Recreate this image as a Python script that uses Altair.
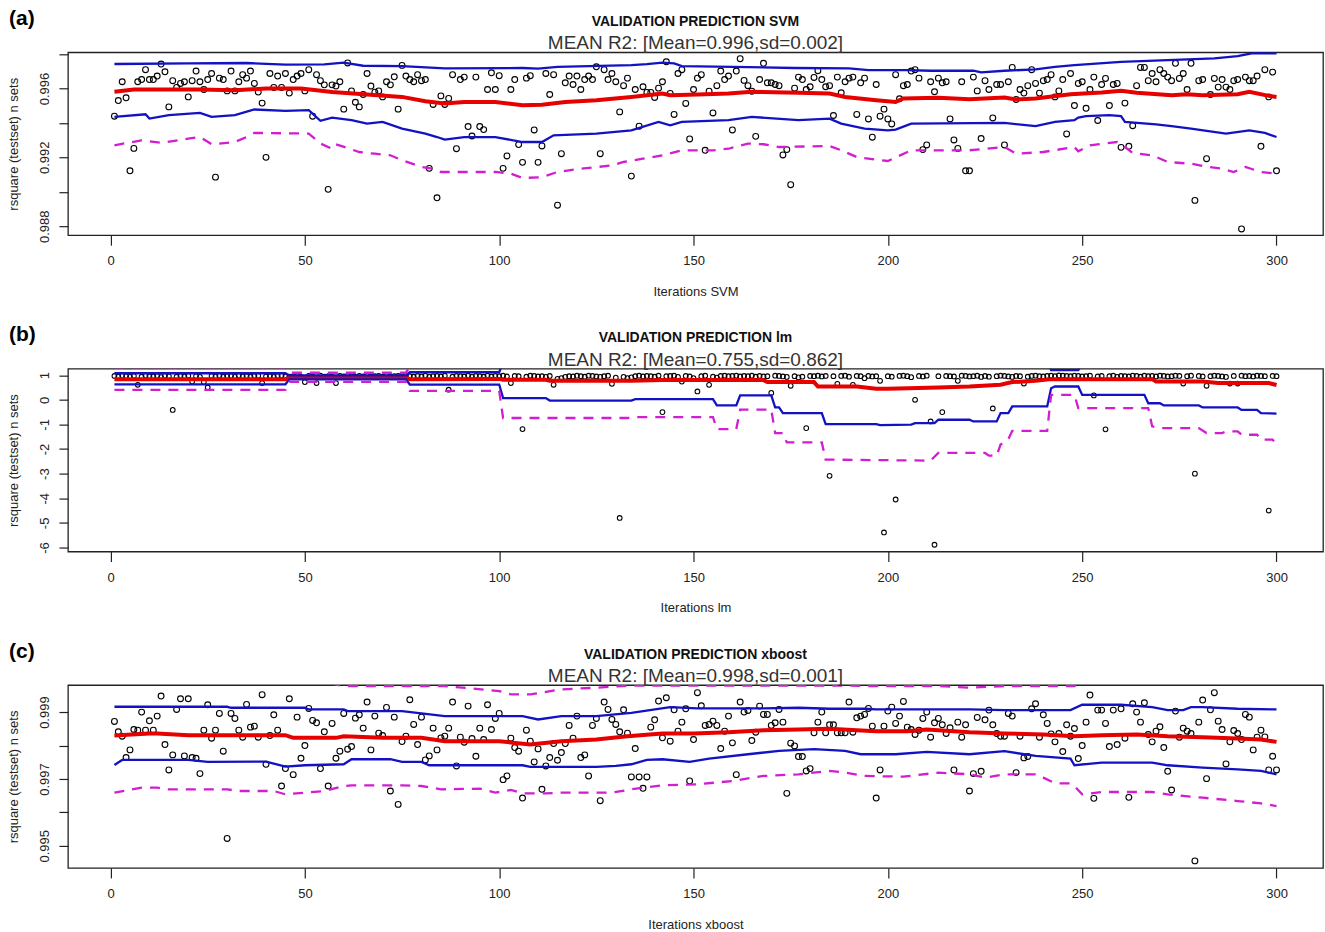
import json
import altair as alt
import pandas as pd

# ---------------- data ----------------
iterations = list(range(1, 301))

svm_r2 = [
    0.99439, 0.99530, 0.99639, 0.99546, 0.99122, 0.99252, 0.99639, 0.99652, 0.99709, 0.99652,
    0.99652, 0.99672, 0.99742, 0.99697, 0.99493, 0.99645, 0.99606, 0.99629, 0.99639, 0.99551,
    0.99645, 0.99701, 0.99639, 0.99594, 0.99652, 0.99687, 0.99085, 0.99660, 0.99652, 0.99586,
    0.99701, 0.99586, 0.99639, 0.99680, 0.99660, 0.99701, 0.99629, 0.99579, 0.99515, 0.99200,
    0.99687, 0.99606, 0.99672, 0.99606, 0.99687, 0.99573, 0.99652, 0.99672, 0.99687, 0.99586,
    0.99709, 0.99439, 0.99680, 0.99645, 0.99621, 0.99014, 0.99621, 0.99614, 0.99639, 0.99480,
    0.99748, 0.99586, 0.99520, 0.99493, 0.99565, 0.99687, 0.99614, 0.99579, 0.99586, 0.99551,
    0.99639, 0.99621, 0.99668, 0.99480, 0.99734, 0.99672, 0.99652, 0.99639, 0.99680, 0.99645,
    0.99652, 0.99136, 0.99507, 0.98965, 0.99557, 0.99507, 0.99542, 0.99680, 0.99250, 0.99652,
    0.99666, 0.99379, 0.99324, 0.99666, 0.99379, 0.99361, 0.99594, 0.99691, 0.99594, 0.99674,
    0.99136, 0.99208, 0.99594, 0.99652, 0.99274, 0.99171, 0.99660, 0.99674, 0.99359, 0.99171,
    0.99266, 0.99687, 0.99565, 0.99680, 0.98922, 0.99221, 0.99633, 0.99672, 0.99623, 0.99672,
    0.99594, 0.99652, 0.99672, 0.99652, 0.99726, 0.99221, 0.99709, 0.99652, 0.99687, 0.99639,
    0.99464, 0.99616, 0.99660, 0.99091, 0.99594, 0.99381, 0.99610, 0.99577, 0.99577, 0.99548,
    0.99602, 0.99639, 0.99755, 0.99571, 0.99449, 0.99687, 0.99709, 0.99513, 0.99307, 0.99594,
    0.99660, 0.99680, 0.99241, 0.99584, 0.99458, 0.99616, 0.99701, 0.99652, 0.99672, 0.99359,
    0.99701, 0.99773, 0.99647, 0.99616, 0.99584, 0.99322, 0.99652, 0.99746, 0.99633, 0.99633,
    0.99623, 0.99616, 0.99214, 0.99245, 0.99041, 0.99602, 0.99666, 0.99652, 0.99594, 0.99610,
    0.99664, 0.99703, 0.99652, 0.99610, 0.99616, 0.99443, 0.99666, 0.99575, 0.99639, 0.99660,
    0.99666, 0.99449, 0.99633, 0.99660, 0.99423, 0.99317, 0.99623, 0.99439, 0.99480, 0.99423,
    0.99394, 0.99680, 0.99540, 0.99616, 0.99623, 0.99701, 0.99709, 0.99660, 0.99245, 0.99272,
    0.99639, 0.99581, 0.99660, 0.99633, 0.99639, 0.99423, 0.99301, 0.99252, 0.99639, 0.99122,
    0.99122, 0.99666, 0.99586, 0.99309, 0.99645, 0.99594, 0.99429, 0.99623, 0.99623, 0.99272,
    0.99639, 0.99722, 0.99536, 0.99594, 0.99573, 0.99616, 0.99709, 0.99629, 0.99573, 0.99645,
    0.99652, 0.99680, 0.99551, 0.99586, 0.99652, 0.99336, 0.99687, 0.99501, 0.99629, 0.99639,
    0.99485, 0.99594, 0.99666, 0.99414, 0.99623, 0.99658, 0.99501, 0.99623, 0.99629, 0.99258,
    0.99515, 0.99264, 0.99384, 0.99616, 0.99722, 0.99722, 0.99645, 0.99687, 0.99639, 0.99709,
    0.99687, 0.99666, 0.99645, 0.99746, 0.99658, 0.99687, 0.99594, 0.99746, 0.98950, 0.99645,
    0.99652, 0.99192, 0.99565, 0.99658, 0.99608, 0.99652, 0.99608, 0.99594, 0.99645, 0.99652,
    0.98784, 0.99666, 0.99645, 0.99645, 0.99672, 0.99264, 0.99709, 0.99551, 0.99695, 0.99122,
]

lm_r2 = [
    0.97, 0.95, 0.98, 0.96, 0.93, 0.97, 0.61, 0.94, 0.98, 0.96,
    0.95, 0.97, 0.92, 0.98, 0.96, -0.41, 0.94, 0.97, 0.95, 0.98,
    0.74, 0.96, 0.93, 0.72, 0.50, 0.97, 0.95, 0.98, 0.94, 0.96,
    0.97, 0.93, 0.98, 0.95, 0.96, 0.94, 0.97, 0.98, 0.68, 0.95,
    0.96, 0.93, 0.97, 0.98, 0.95, 0.94, 0.96, 0.97, 0.93, 0.72,
    0.97, 0.95, 0.68, 0.98, 0.94, 0.96, 0.93, 0.68, 0.97, 0.95,
    0.98, 0.96, 0.94, 0.97, 0.95, 0.98, 0.93, 0.96, 0.97, 0.94,
    0.98, 0.95, 0.96, 0.97, 0.93, 0.98, 0.96, 0.94, 0.97, 0.95,
    0.98, 0.93, 0.96, 0.97, 0.95, 0.98, 0.41, 0.94, 0.97, 0.96,
    0.95, 0.98, 0.93, 0.97, 0.96, 0.94, 0.98, 0.95, 0.97, 0.96,
    0.98, 0.95, 0.68, 0.97, 0.96, -1.19, 0.94, 0.98, 0.97, 0.95,
    0.96, 0.93, 0.97, 0.61, 0.85, 0.88, 0.93, 0.96, 0.95, 0.98,
    0.96, 0.94, 0.98, 0.97, 0.95, 0.93, 0.96, 0.98, 0.65, 0.90,
    -4.80, 0.93, 0.88, 0.91, 0.96, 0.98, 0.95, 0.97, 0.96, 0.94,
    0.98, -0.50, 0.96, 0.97, 0.98, 0.93, 0.74, 0.97, 0.95, 0.88,
    0.34, 0.96, 0.98, 0.61, 0.94, 0.90, 0.97, 0.98, 0.96, 0.97,
    0.98, 0.95, 0.97, 0.96, 0.98, 0.94, 0.97, 0.95, 0.96, 0.28,
    0.98, 0.97, 0.95, 0.93, 0.57, 0.96, 0.91, 0.94, -1.15, 0.97,
    0.96, 0.98, 0.95, 0.97, -3.09, 0.96, 0.65, 0.97, 0.98, 0.94,
    0.61, 0.97, 0.96, 0.88, 0.97, 0.95, 0.96, 0.77, -5.39, 0.96,
    0.94, -4.05, 0.97, 0.98, 0.96, 0.92, 0.00, 0.97, 0.95, 0.98,
    -0.88, -5.89, 0.96, -0.50, 0.97, 0.96, 0.95, 0.77, 0.98, 0.97,
    0.95, 0.96, 0.98, 0.93, 0.97, 0.94, -0.35, 0.96, 0.98, 0.97,
    0.95, 0.93, 0.97, 0.96, 0.66, 0.94, 0.97, 0.98, 0.96, 0.95,
    0.97, 0.98, 0.96, 0.99, 0.98, 0.97, 0.96, 0.98, 0.97, 0.95,
    0.96, 0.98, 0.18, 0.95, 0.97, -1.20, 0.96, 0.98, 0.93, 0.97,
    0.96, 0.95, 0.98, 0.97, 0.94, 0.98, 0.96, 0.97, 0.95, 0.98,
    0.97, 0.95, 0.96, 0.98, 0.97, 0.66, 0.96, 0.98, -3.00, 0.97,
    0.95, 0.57, 0.96, 0.98, 0.97, 0.95, 0.93, 0.66, 0.97, 0.66,
    0.98, 0.96, 0.97, 0.95, 0.98, 0.97, 0.96, -4.50, 0.97, 0.96,
]

xgb_r2 = [
    0.99872, 0.99841, 0.99828, 0.99764, 0.99787, 0.99848, 0.99846, 0.99900, 0.99846, 0.99874,
    0.99846, 0.99888, 0.99948, 0.99803, 0.99727, 0.99772, 0.99908, 0.99940, 0.99769, 0.99940,
    0.99764, 0.99762, 0.99716, 0.99846, 0.99922, 0.99822, 0.99846, 0.99896, 0.99783, 0.99522,
    0.99896, 0.99881, 0.99846, 0.99825, 0.99923, 0.99855, 0.99858, 0.99825, 0.99952, 0.99744,
    0.99830, 0.99892, 0.99846, 0.99679, 0.99731, 0.99940, 0.99713, 0.99885, 0.99762, 0.99800,
    0.99911, 0.99875, 0.99868, 0.99731, 0.99841, 0.99679, 0.99866, 0.99762, 0.99783, 0.99896,
    0.99789, 0.99797, 0.99882, 0.99892, 0.99852, 0.99930, 0.99787, 0.99888, 0.99837, 0.99830,
    0.99914, 0.99664, 0.99885, 0.99624, 0.99812, 0.99828, 0.99937, 0.99863, 0.99803, 0.99885,
    0.99757, 0.99769, 0.99852, 0.99787, 0.99823, 0.99828, 0.99852, 0.99930, 0.99739, 0.99825,
    0.99810, 0.99918, 0.99821, 0.99768, 0.99852, 0.99818, 0.99922, 0.99848, 0.99881, 0.99896,
    0.99698, 0.99709, 0.99822, 0.99794, 0.99783, 0.99643, 0.99846, 0.99813, 0.99751, 0.99790,
    0.99669, 0.99739, 0.99764, 0.99806, 0.99756, 0.99779, 0.99806, 0.99860, 0.99822, 0.99888,
    0.99764, 0.99772, 0.99709, 0.99860, 0.99881, 0.99635, 0.99930, 0.99908, 0.99878, 0.99863,
    0.99841, 0.99907, 0.99837, 0.99706, 0.99791, 0.99706, 0.99672, 0.99706, 0.99855, 0.99877,
    0.99933, 0.99823, 0.99943, 0.99813, 0.99907, 0.99843, 0.99870, 0.99910, 0.99694, 0.99818,
    0.99958, 0.99919, 0.99860, 0.99863, 0.99873, 0.99860, 0.99791, 0.99843, 0.99888, 0.99808,
    0.99713, 0.99930, 0.99900, 0.99905, 0.99815, 0.99840, 0.99918, 0.99893, 0.99893, 0.99860,
    0.99868, 0.99908, 0.99870, 0.99657, 0.99807, 0.99799, 0.99767, 0.99767, 0.99724, 0.99731,
    0.99838, 0.99870, 0.99900, 0.99838, 0.99862, 0.99862, 0.99838, 0.99838, 0.99838, 0.99930,
    0.99840, 0.99883, 0.99888, 0.99893, 0.99911, 0.99858, 0.99643, 0.99727, 0.99858, 0.99903,
    0.99915, 0.99866, 0.99888, 0.99932, 0.99855, 0.99848, 0.99833, 0.99846, 0.99881, 0.99900,
    0.99825, 0.99868, 0.99881, 0.99862, 0.99836, 0.99853, 0.99727, 0.99870, 0.99825, 0.99862,
    0.99664, 0.99716, 0.99884, 0.99723, 0.99877, 0.99906, 0.99862, 0.99836, 0.99828, 0.99828,
    0.99896, 0.99888, 0.99719, 0.99828, 0.99763, 0.99767, 0.99910, 0.99925, 0.99825, 0.99892,
    0.99866, 0.99835, 0.99811, 0.99836, 0.99782, 0.99862, 0.99828, 0.99851, 0.99761, 0.99800,
    0.99870, 0.99951, 0.99642, 0.99906, 0.99906, 0.99866, 0.99797, 0.99906, 0.99803, 0.99910,
    0.99822, 0.99645, 0.99925, 0.99900, 0.99870, 0.99928, 0.99833, 0.99811, 0.99843, 0.99856,
    0.99794, 0.99723, 0.99667, 0.99903, 0.99825, 0.99852, 0.99843, 0.99836, 0.99455, 0.99870,
    0.99936, 0.99701, 0.99907, 0.99958, 0.99873, 0.99848, 0.99745, 0.99811, 0.99845, 0.99836,
    0.99818, 0.99893, 0.99885, 0.99787, 0.99825, 0.99846, 0.99826, 0.99727, 0.99768, 0.99727,
]

# running summary lines: (iteration, value)
svm_mean = [(1, 0.99581), (6, 0.99594), (23, 0.99594), (32, 0.99590), (40, 0.99600), (49, 0.99600),
            (53, 0.99590), (57, 0.99579), (66, 0.99565), (75, 0.99551), (81, 0.99526), (86, 0.99513),
            (91, 0.99522), (99, 0.99522), (106, 0.99503), (111, 0.99505), (117, 0.99522), (125, 0.99532),
            (134, 0.99551), (142, 0.99571), (144, 0.99561), (151, 0.99565), (159, 0.99571), (165, 0.99581),
            (177, 0.99575), (185, 0.99571), (189, 0.99551), (197, 0.99532), (202, 0.99522), (204, 0.99542),
            (213, 0.99546), (221, 0.99538), (230, 0.99548), (233, 0.99536), (238, 0.99542), (247, 0.99567),
            (255, 0.99577), (260, 0.99586), (264, 0.99575), (273, 0.99561), (277, 0.99567), (281, 0.99561),
            (290, 0.99567), (293, 0.99581), (298, 0.99557), (300, 0.99551)]
svm_upper = [(1, 0.99742), (20, 0.99746), (35, 0.99748), (45, 0.99738), (55, 0.99740), (60, 0.99750),
             (65, 0.99732), (75, 0.99730), (86, 0.99717), (106, 0.99719), (110, 0.99715), (115, 0.99726),
             (134, 0.99736), (138, 0.99742), (142, 0.99750), (145, 0.99746), (147, 0.99730), (160, 0.99726),
             (176, 0.99719), (190, 0.99717), (195, 0.99707), (205, 0.99707), (211, 0.99703), (222, 0.99703),
             (224, 0.99693), (230, 0.99703), (238, 0.99711), (243, 0.99726), (248, 0.99736), (260, 0.99755),
             (272, 0.99765), (284, 0.99775), (290, 0.99788), (294, 0.99806), (300, 0.99804)]
svm_lower = [(1, 0.99435), (9, 0.99450), (10, 0.99425), (15, 0.99445), (23, 0.99458), (26, 0.99435),
             (32, 0.99445), (37, 0.99478), (45, 0.99470), (51, 0.99474), (54, 0.99412), (57, 0.99431),
             (62, 0.99416), (66, 0.99396), (70, 0.99406), (75, 0.99367), (81, 0.99338), (84, 0.99318),
             (86, 0.99303), (91, 0.99318), (99, 0.99318), (106, 0.99289), (111, 0.99289), (114, 0.99328),
             (125, 0.99338), (134, 0.99357), (141, 0.99406), (144, 0.99386), (147, 0.99406), (159, 0.99416),
             (165, 0.99435), (177, 0.99416), (185, 0.99425), (188, 0.99396), (194, 0.99367), (200, 0.99357),
             (202, 0.99361), (206, 0.99396), (230, 0.99400), (238, 0.99381), (243, 0.99406), (248, 0.99416),
             (249, 0.99431), (251, 0.99439), (257, 0.99445), (260, 0.99439), (261, 0.99406), (269, 0.99392),
             (273, 0.99381), (278, 0.99367), (287, 0.99338), (293, 0.99357), (297, 0.99342), (300, 0.99318)]
svm_upper2 = [(1, 0.99890), (100, 0.99925), (200, 0.99890), (300, 0.99995)]
svm_lower2 = [(1, 0.99270), (8, 0.99299), (13, 0.99284), (20, 0.99309), (23, 0.99318), (26, 0.99276),
              (32, 0.99289), (35, 0.99318), (37, 0.99342), (51, 0.99338), (54, 0.99280), (57, 0.99250),
              (58, 0.99276), (64, 0.99231), (68, 0.99221), (72, 0.99212), (75, 0.99183), (80, 0.99144),
              (83, 0.99134), (85, 0.99115), (99, 0.99115), (103, 0.99105), (106, 0.99080), (111, 0.99085),
              (115, 0.99115), (121, 0.99134), (129, 0.99153), (132, 0.99173), (137, 0.99192), (142, 0.99212),
              (147, 0.99241), (155, 0.99241), (159, 0.99250), (164, 0.99280), (168, 0.99276), (172, 0.99260),
              (185, 0.99266), (188, 0.99241), (192, 0.99202), (197, 0.99186), (200, 0.99179), (206, 0.99241),
              (221, 0.99241), (230, 0.99260), (233, 0.99221), (240, 0.99231), (248, 0.99260), (249, 0.99235),
              (252, 0.99270), (259, 0.99289), (261, 0.99260), (263, 0.99225), (268, 0.99212), (272, 0.99173),
              (278, 0.99163), (281, 0.99150), (286, 0.99134), (289, 0.99115), (292, 0.99144), (296, 0.99115),
              (300, 0.99105)]

lm_mean = [(1, 0.84), (45, 0.84), (46, 0.90), (76, 0.90), (77, 0.84), (100, 0.85), (101, 0.81), (112, 0.81),
           (113, 0.77), (134, 0.77), (142, 0.80), (168, 0.80), (169, 0.72), (181, 0.72), (182, 0.54),
           (192, 0.54), (197, 0.45), (200, 0.45), (213, 0.50), (221, 0.54), (229, 0.61), (232, 0.72),
           (238, 0.77), (242, 0.84), (268, 0.84), (269, 0.74), (281, 0.74), (285, 0.68), (298, 0.68),
           (300, 0.60)]
lm_upper = [(1, 1.08), (45, 1.08), (46, 0.99), (76, 0.99), (77, 1.12), (100, 1.12), (101, 1.55), (112, 1.55),
            (113, 1.57), (134, 1.51), (155, 1.57), (156, 1.83), (161, 1.83), (162, 1.42), (170, 1.42),
            (171, 1.75), (173, 1.98), (183, 1.98), (184, 2.07), (197, 2.00), (213, 1.80), (222, 1.85),
            (229, 1.76), (231, 1.71), (241, 1.71), (242, 1.21), (249, 1.21), (250, 1.48), (266, 1.48),
            (267, 1.82), (281, 1.71), (290, 1.69), (300, 1.70)]
lm_lower = [(1, 0.63), (45, 0.63), (46, 0.83), (76, 0.83), (77, 0.62), (100, 0.62), (101, 0.07), (112, 0.07),
            (113, -0.03), (134, -0.03), (135, 0.03), (155, 0.03), (156, -0.23), (161, -0.23), (162, 0.18),
            (170, 0.18), (171, -0.31), (172, -0.31), (173, -0.54), (183, -0.54), (184, -0.99), (197, -0.99),
            (198, -1.03), (206, -1.01), (207, -0.95), (212, -0.95), (213, -0.81), (221, -0.81), (222, -0.88),
            (228, -0.88), (229, -0.54), (231, -0.54), (232, -0.27), (241, -0.27), (242, 0.47), (243, 0.54),
            (249, 0.54), (250, 0.20), (266, 0.20), (267, -0.14), (270, -0.14), (271, -0.23), (280, -0.23),
            (281, -0.31), (290, -0.31), (291, -0.41), (295, -0.41), (296, -0.54), (300, -0.56)]
lm_upper2 = [(1, 1.30), (45, 1.30), (46, 1.10), (76, 1.10), (77, 1.35), (100, 1.35), (101, 2.35), (134, 2.30),
             (155, 2.30), (156, 2.80), (161, 2.80), (162, 2.00), (170, 2.00), (171, 2.80), (183, 3.20),
             (184, 3.50), (211, 3.40), (229, 3.00), (232, 2.70), (241, 2.70), (242, 1.48), (248, 1.48),
             (249, 2.00), (267, 2.00), (268, 2.70), (300, 3.00)]
lm_lower2 = [(1, 0.40), (45, 0.40), (46, 0.73), (76, 0.73), (77, 0.36), (100, 0.36), (101, -0.74), (133, -0.74),
             (134, -0.70), (155, -0.70), (156, -1.19), (161, -1.19), (162, -0.40), (170, -0.40), (171, -1.35),
             (173, -1.35), (174, -1.73), (183, -1.73), (184, -2.43), (211, -2.47), (213, -2.16), (225, -2.16),
             (226, -2.27), (228, -2.27), (229, -1.82), (231, -1.60), (232, -1.26), (241, -1.26), (242, 0.20),
             (248, 0.20), (249, -0.34), (267, -0.34), (268, -1.08), (270, -1.15), (280, -1.15), (282, -1.35),
             (286, -1.35), (287, -1.28), (290, -1.28), (291, -1.42), (295, -1.42), (296, -1.62), (299, -1.62),
             (300, -1.80)]

xgb_mean = [(1, 0.99830), (10, 0.99836), (12, 0.99836), (20, 0.99831), (45, 0.99831), (47, 0.99823),
            (58, 0.99823), (60, 0.99828), (70, 0.99823), (80, 0.99823), (86, 0.99813), (100, 0.99813),
            (108, 0.99803), (116, 0.99813), (125, 0.99818), (133, 0.99828), (142, 0.99836), (150, 0.99836),
            (159, 0.99840), (168, 0.99846), (177, 0.99848), (185, 0.99850), (192, 0.99846), (197, 0.99843),
            (205, 0.99843), (210, 0.99848), (221, 0.99840), (230, 0.99836), (240, 0.99833), (248, 0.99828),
            (255, 0.99831), (264, 0.99833), (272, 0.99828), (281, 0.99825), (290, 0.99821), (296, 0.99818),
            (300, 0.99811)]
xgb_upper = [(1, 0.99916), (30, 0.99916), (31, 0.99913), (50, 0.99913), (51, 0.99908), (60, 0.99908),
             (61, 0.99903), (75, 0.99903), (80, 0.99896), (86, 0.99888), (106, 0.99888), (110, 0.99878),
             (116, 0.99888), (125, 0.99888), (134, 0.99898), (144, 0.99915), (151, 0.99911), (168, 0.99911),
             (177, 0.99913), (185, 0.99910), (194, 0.99910), (197, 0.99908), (221, 0.99908), (230, 0.99906),
             (247, 0.99906), (250, 0.99922), (260, 0.99922), (268, 0.99915), (272, 0.99906), (276, 0.99906),
             (278, 0.99915), (281, 0.99915), (290, 0.99910), (300, 0.99908)]
xgb_lower = [(1, 0.99742), (3, 0.99757), (20, 0.99757), (25, 0.99751), (40, 0.99752), (45, 0.99737),
             (50, 0.99741), (60, 0.99744), (62, 0.99759), (72, 0.99759), (75, 0.99751), (80, 0.99751),
             (82, 0.99741), (106, 0.99741), (108, 0.99736), (125, 0.99736), (130, 0.99739), (134, 0.99744),
             (138, 0.99757), (142, 0.99759), (149, 0.99751), (154, 0.99761), (164, 0.99774), (172, 0.99784),
             (181, 0.99789), (189, 0.99784), (193, 0.99774), (202, 0.99774), (210, 0.99781), (221, 0.99774),
             (230, 0.99783), (238, 0.99769), (247, 0.99761), (248, 0.99741), (255, 0.99749), (268, 0.99749),
             (272, 0.99741), (281, 0.99734), (290, 0.99729), (296, 0.99724), (300, 0.99714)]
xgb_upper2 = [(1, 0.99995), (55, 0.99990), (60, 0.99978), (86, 0.99978), (100, 0.99963), (103, 0.99953),
              (108, 0.99953), (116, 0.99968), (125, 0.99973), (133, 0.99979), (190, 0.99979), (195, 0.99978),
              (213, 0.99978), (221, 0.99973), (230, 0.99978), (248, 0.99978), (250, 0.99995), (300, 0.99999)]
xgb_lower2 = [(1, 0.99659), (8, 0.99674), (12, 0.99674), (15, 0.99669), (30, 0.99669), (33, 0.99664),
              (42, 0.99664), (45, 0.99654), (50, 0.99659), (55, 0.99664), (60, 0.99679), (62, 0.99681),
              (75, 0.99681), (80, 0.99679), (85, 0.99669), (95, 0.99671), (99, 0.99659), (103, 0.99667),
              (106, 0.99657), (112, 0.99657), (116, 0.99659), (129, 0.99659), (134, 0.99669), (142, 0.99681),
              (151, 0.99684), (160, 0.99694), (168, 0.99709), (177, 0.99714), (185, 0.99724), (189, 0.99719),
              (194, 0.99709), (204, 0.99707), (213, 0.99719), (221, 0.99714), (225, 0.99704), (230, 0.99714),
              (238, 0.99714), (240, 0.99704), (243, 0.99687), (247, 0.99687), (248, 0.99679), (250, 0.99654),
              (255, 0.99661), (268, 0.99661), (272, 0.99654), (281, 0.99644), (290, 0.99634), (296, 0.99627),
              (300, 0.99619)]

panel_tags = ["(a)", "(b)", "(c)"]
panel_titles = ["VALIDATION PREDICTION SVM", "VALIDATION PREDICTION lm", "VALIDATION PREDICTION xboost"]
panel_subtitles = ["MEAN R2: [Mean=0.996,sd=0.002]", "MEAN R2: [Mean=0.755,sd=0.862]",
                   "MEAN R2: [Mean=0.998,sd=0.001]"]
x_titles = ["Iterations SVM", "Iterations lm", "Iterations xboost"]
y_title = "rsquare (testset) n sets"
x_ticks = [0, 50, 100, 150, 200, 250, 300]
x_range = [-10.96, 311.96]
svm_y_ticks = [0.988, 0.990, 0.992, 0.994, 0.996, 0.998]
svm_y_labels = ["0.988", "0.992", "0.996"]
svm_y_range = [0.98748, 0.99810]
lm_y_ticks = [-6, -5, -4, -3, -2, -1, 0, 1]
lm_y_labels = ["-6", "-5", "-4", "-3", "-2", "-1", "0", "1"]
lm_y_range = [-6.165, 1.265]
xgb_y_ticks = [0.995, 0.996, 0.997, 0.998, 0.999]
xgb_y_labels = ["0.995", "0.997", "0.999"]
xgb_y_range = [0.99434, 0.99981]

FONT = "Liberation Sans"
W, H = 1256, 183
RED, BLUE, MAGENTA = "#e60000", "#1212c4", "#d01ed0"


def make_panel(k, r2, mean, upper, lower, upper2, lower2, y_range, y_ticks, y_labels, pt_size):
    s = "('' + round(datum.value * 1000) / 1000)"
    label_expr = f"indexof({json.dumps(y_labels)}, {s}) >= 0 ? {s} : ''"
    xenc = alt.X("it:Q", scale=alt.Scale(domain=x_range, nice=False, zero=False),
                 axis=alt.Axis(values=x_ticks, title=x_titles[k], tickSize=10, labelPadding=9.5,
                               titlePadding=18, labelAngle=0, format="d"))
    yenc = alt.Y("r2:Q", scale=alt.Scale(domain=y_range, nice=False, zero=False),
                 axis=alt.Axis(values=y_ticks, labelExpr=label_expr, title=y_title, tickSize=9,
                               labelPadding=7, labelAngle=270, labelAlign="center",
                               labelBaseline="bottom", labelOverlap=False, titlePadding=18))
    pts = alt.Chart(pd.DataFrame({"it": iterations, "r2": r2})).mark_point(
        shape="circle", filled=False, size=pt_size, strokeWidth=1.1, color="black", opacity=1
    ).encode(x=xenc, y=yenc)

    def line(pairs, color, width, dash=None):
        kw = dict(color=color, strokeWidth=width, clip=True)
        if dash:
            kw["strokeDash"] = dash
        return alt.Chart(pd.DataFrame(pairs, columns=["it", "r2"])).mark_line(**kw).encode(x=xenc, y=yenc)

    head = pd.DataFrame({"tag": [panel_tags[k]], "title": [panel_titles[k]], "sub": [panel_subtitles[k]]})
    tag = alt.Chart(head).mark_text(
        align="left", baseline="alphabetic", fontSize=21, fontWeight="bold", font=FONT, color="black"
    ).encode(text="tag:N", x=alt.value(-59), y=alt.value(-27.5))
    title = alt.Chart(head).mark_text(
        align="center", baseline="alphabetic", fontSize=14, fontWeight="bold", font=FONT, color="#111"
    ).encode(text="title:N", x=alt.value(W / 2), y=alt.value(-26.5))
    sub = alt.Chart(head).mark_text(
        align="center", baseline="alphabetic", fontSize=19, font=FONT, color="#333"
    ).encode(text="sub:N", x=alt.value(W / 2), y=alt.value(-3))

    layers = [pts,
              line(mean, RED, 4),
              line(upper, BLUE, 2.3), line(lower, BLUE, 2.3),
              line(upper2, MAGENTA, 2.3, [10, 8]), line(lower2, MAGENTA, 2.3, [10, 8]),
              tag, title, sub]
    return alt.layer(*layers).properties(width=W, height=H)


pa = make_panel(0, svm_r2, svm_mean, svm_upper, svm_lower, svm_upper2, svm_lower2,
                svm_y_range, svm_y_ticks, svm_y_labels, 34)
pb = make_panel(1, lm_r2, lm_mean, lm_upper, lm_lower, lm_upper2, lm_lower2,
                lm_y_range, lm_y_ticks, lm_y_labels, 22)
pc = make_panel(2, xgb_r2, xgb_mean, xgb_upper, xgb_lower, xgb_upper2, xgb_lower2,
                xgb_y_range, xgb_y_ticks, xgb_y_labels, 34)

chart = alt.vconcat(pa, pb, pc, spacing=133.6, bounds="flush").properties(
    padding={"left": 7, "top": 6, "right": 1, "bottom": 0},
    autosize=alt.AutoSizeParams(type="pad"),
    background="white",
).configure_view(stroke="#222", strokeWidth=1.3).configure_axis(
    domain=False, grid=False, labelFont=FONT, titleFont=FONT, labelFontSize=13, titleFontSize=13,
    labelColor="#222", titleColor="#222", tickColor="#222", titleFontWeight="normal", tickWidth=1.2,
)

chart.save("out.html", embed_options={"renderer": "svg", "actions": False})
